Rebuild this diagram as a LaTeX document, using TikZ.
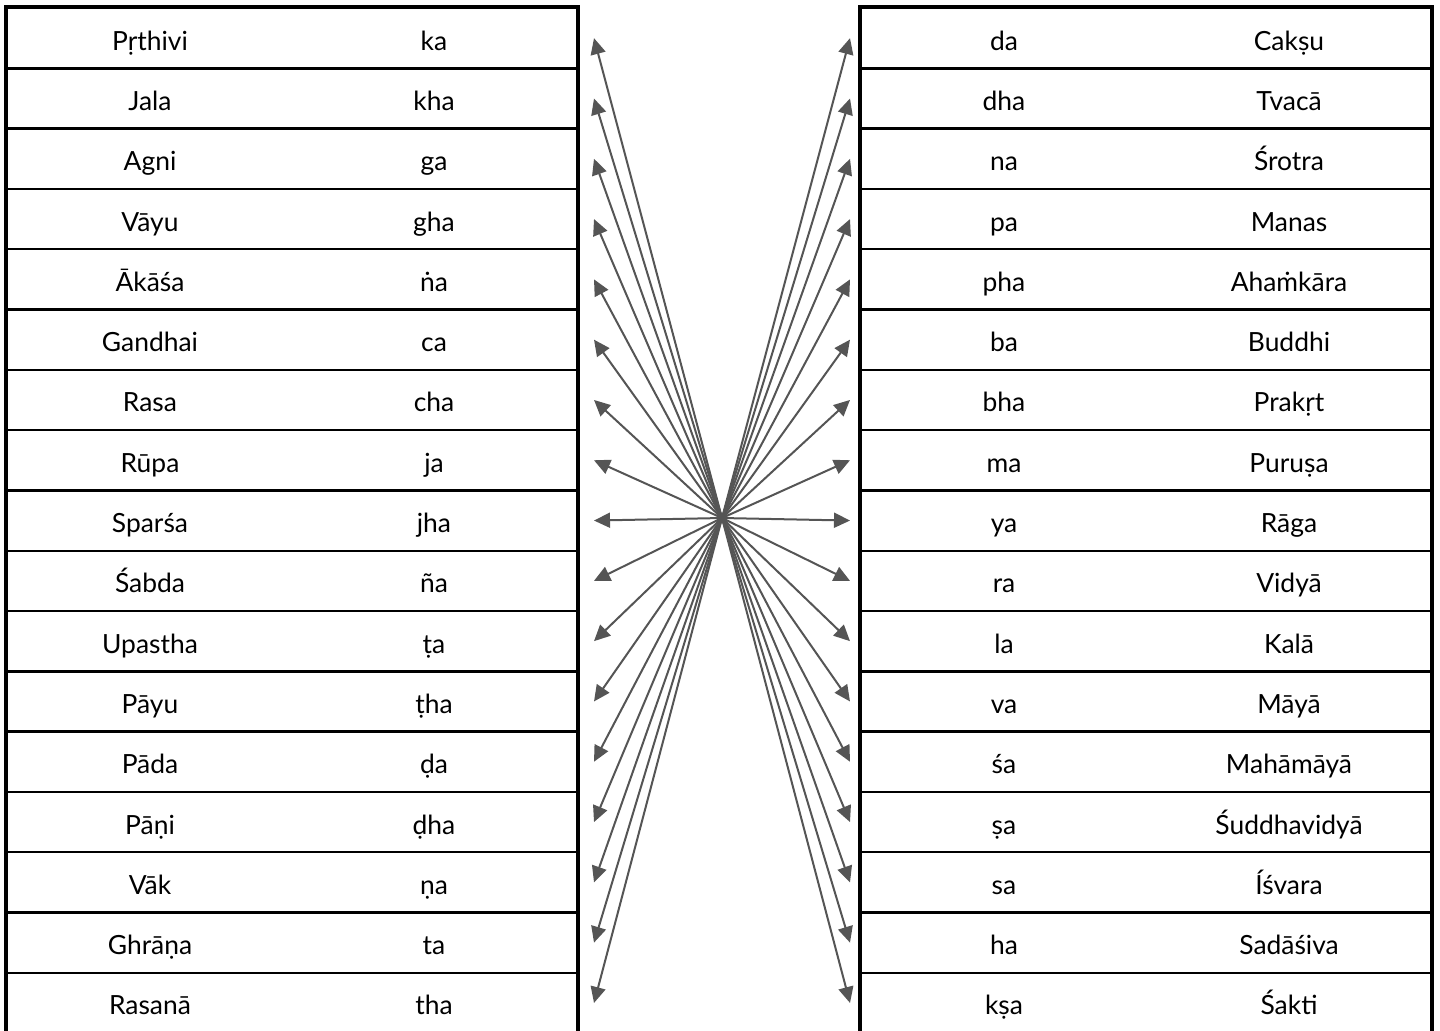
\documentclass[tikz,border=0pt]{standalone}
\usepackage{fontspec}
\setmainfont{Lato}
\usetikzlibrary{arrows.meta}
\definecolor{arrowgray}{HTML}{555555}

\begin{document}
\begin{tikzpicture}[
x=0.5pt,y=-0.5pt,
row/.style={draw,line width=1.2pt,minimum width=285pt,minimum height=30.15pt,inner sep=0pt},
word/.style={font=\fontsize{13.2}{15}\selectfont,anchor=base,inner sep=0pt},
frame/.style={draw,line width=1.5pt},
arrow/.style={-{Triangle[length=8pt,width=7.5pt]},line width=1pt,arrowgray}
]
\useasboundingbox (0,0) rectangle (1440,1030);
\coordinate (hub) at (722,518);

% left table
\foreach \a/\b [count=\i] in {Pṛthivi/ka,Jala/kha,Agni/ga,Vāyu/gha,Ākāśa/ṅa,Gandhai/ca,Rasa/cha,Rūpa/ja,Sparśa/jha,Śabda/ña,Upastha/ṭa,Pāyu/ṭha,Pāda/ḍa,Pāṇi/ḍha,Vāk/ṇa,Ghrāṇa/ta,Rasanā/tha}{
  \node[row] (l\i) at (292,{8+60.3*(\i-0.5)}) {};
  \node[word] (lname\i) at (150,{20+60.3*(\i-0.5)}) {\a};
  \node[word] (lsyl\i) at (434,{20+60.3*(\i-0.5)}) {\b};
}
\draw[frame] (l1.north west) rectangle (l17.south east);

% right table
\foreach \a/\b [count=\i] in {da/Cakṣu,dha/Tvacā,na/Śrotra,pa/Manas,pha/Ahaṁkāra,ba/Buddhi,bha/Prakṛt,ma/Puruṣa,ya/Rāga,ra/Vidyā,la/Kalā,va/Māyā,śa/Mahāmāyā,ṣa/Śuddhavidyā,sa/Íśvara,ha/Sadāśiva,kṣa/Śakti}{
  \node[row] (r\i) at (1146,{8+60.3*(\i-0.5)}) {};
  \node[word] (rsyl\i) at (1004,{20+60.3*(\i-0.5)}) {\a};
  \node[word] (rname\i) at (1289,{20+60.3*(\i-0.5)}) {\b};
}
\draw[frame] (r1.north west) rectangle (r17.south east);

% arrows out of the hub
\foreach \i in {1,...,17}{
  \coordinate (ltip\i) at (594,{8+60.3*(\i-0.5)});
  \coordinate (rtip\i) at (850,{8+60.3*(\i-0.5)});
  \draw[arrow] (hub)--(ltip\i);
  \draw[arrow] (hub)--(rtip\i);
}
\end{tikzpicture}
\end{document}
